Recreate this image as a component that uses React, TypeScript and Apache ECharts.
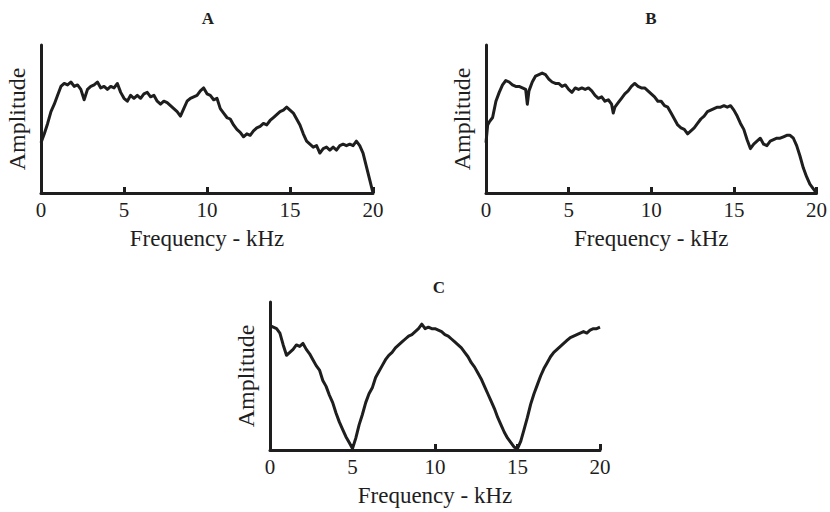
import React, { useEffect, useRef } from "react";
import * as echarts from "echarts";

const panelTitles = ["A", "B", "C"];
const xName = "Frequency - kHz";
const yName = "Amplitude";
const xTicks = [0, 5, 10, 15, 20];

const seriesA: [number, number][] = [
  [0.0, 34], [0.2, 40], [0.4, 47], [0.6, 55], [0.8, 60], [1.0, 66], [1.2, 72], [1.4, 74], [1.6, 73], [1.8, 75],
  [2.0, 72], [2.2, 73], [2.4, 70], [2.6, 63], [2.8, 70], [3.0, 72], [3.2, 73], [3.4, 75], [3.6, 71], [3.8, 72],
  [4.0, 70], [4.2, 72], [4.4, 71], [4.6, 74], [4.8, 68], [5.0, 64], [5.2, 62], [5.4, 66], [5.6, 64], [5.8, 66],
  [6.0, 64], [6.2, 67], [6.4, 68], [6.6, 65], [6.8, 66], [7.0, 62], [7.2, 60], [7.4, 62], [7.6, 61], [7.8, 59],
  [8.0, 57], [8.2, 55], [8.4, 52], [8.6, 57], [8.8, 62], [9.0, 64], [9.2, 65], [9.4, 66], [9.6, 69], [9.8, 71],
  [10.0, 67], [10.2, 66], [10.4, 63], [10.6, 64], [10.8, 57], [11.0, 54], [11.2, 51], [11.4, 50], [11.6, 46], [11.8, 43],
  [12.0, 41], [12.2, 38], [12.4, 40], [12.6, 39], [12.8, 42], [13.0, 44], [13.2, 45], [13.4, 47], [13.6, 46], [13.8, 49],
  [14.0, 51], [14.2, 53], [14.4, 55], [14.6, 56], [14.8, 58], [15.0, 56], [15.2, 54], [15.4, 50], [15.6, 46], [15.8, 40],
  [16.0, 35], [16.2, 33], [16.4, 31], [16.6, 32], [16.8, 27], [17.0, 30], [17.2, 31], [17.4, 29], [17.6, 31], [17.8, 29],
  [18.0, 32], [18.2, 33], [18.4, 32], [18.6, 33], [18.8, 32], [19.0, 35], [19.2, 32], [19.4, 27], [19.6, 18], [19.8, 9],
  [20.0, 0],
];

const seriesB: [number, number][] = [
  [0.0, 34], [0.1, 46], [0.2, 48], [0.4, 51], [0.6, 62], [0.8, 68], [1.0, 73], [1.2, 76], [1.4, 75], [1.6, 73],
  [1.8, 72], [2.0, 72], [2.2, 71], [2.4, 70], [2.5, 60], [2.6, 69], [2.8, 75], [3.0, 79], [3.2, 80], [3.4, 81],
  [3.6, 80], [3.8, 77], [4.0, 75], [4.2, 74], [4.4, 74], [4.6, 72], [4.8, 73], [5.0, 70], [5.2, 68], [5.4, 71],
  [5.6, 70], [5.8, 71], [6.0, 70], [6.2, 71], [6.4, 69], [6.6, 66], [6.8, 64], [7.0, 65], [7.2, 62], [7.4, 63],
  [7.6, 60], [7.7, 54], [7.8, 58], [8.0, 61], [8.2, 64], [8.4, 67], [8.6, 69], [8.8, 72], [9.0, 74], [9.2, 72],
  [9.4, 71], [9.6, 71], [9.8, 69], [10.0, 67], [10.2, 65], [10.4, 62], [10.6, 62], [10.8, 59], [11.0, 58], [11.2, 54],
  [11.4, 50], [11.6, 46], [11.8, 44], [12.0, 43], [12.2, 40], [12.4, 42], [12.6, 44], [12.8, 47], [13.0, 50], [13.2, 52],
  [13.4, 55], [13.6, 56], [13.8, 57], [14.0, 58], [14.2, 58], [14.4, 59], [14.6, 58], [14.8, 59], [15.0, 56], [15.2, 52],
  [15.4, 47], [15.6, 43], [15.8, 36], [16.0, 30], [16.2, 33], [16.4, 35], [16.6, 37], [16.8, 33], [17.0, 32], [17.2, 35],
  [17.4, 36], [17.6, 37], [17.8, 37], [18.0, 38], [18.2, 39], [18.4, 39], [18.6, 37], [18.8, 32], [19.0, 25], [19.2, 17],
  [19.4, 11], [19.6, 6], [19.8, 3], [20.0, 0],
];

const seriesC: [number, number][] = [
  [0.0, 84], [0.2, 83], [0.4, 82], [0.6, 79], [0.8, 71], [1.0, 64], [1.2, 66], [1.4, 68], [1.6, 71], [1.8, 70],
  [2.0, 72], [2.2, 68], [2.4, 65], [2.6, 61], [2.8, 57], [3.0, 54], [3.2, 47], [3.4, 43], [3.6, 37], [3.8, 32],
  [4.0, 25], [4.2, 19], [4.4, 14], [4.6, 9], [4.8, 5], [5.0, 1], [5.2, 8], [5.4, 17], [5.6, 24], [5.8, 32],
  [6.0, 38], [6.2, 42], [6.4, 49], [6.6, 53], [6.8, 57], [7.0, 61], [7.2, 64], [7.4, 66], [7.6, 69], [7.8, 71],
  [8.0, 73], [8.2, 75], [8.4, 77], [8.6, 78], [8.8, 80], [9.0, 82], [9.2, 85], [9.4, 82], [9.6, 83], [9.8, 82],
  [10.0, 82], [10.2, 81], [10.4, 80], [10.6, 78], [10.8, 77], [11.0, 75], [11.2, 73], [11.4, 71], [11.6, 69], [11.8, 66],
  [12.0, 63], [12.2, 59], [12.4, 56], [12.6, 52], [12.8, 48], [13.0, 43], [13.2, 38], [13.4, 33], [13.6, 28], [13.8, 22],
  [14.0, 17], [14.2, 12], [14.4, 8], [14.6, 5], [14.8, 2], [15.0, 1], [15.2, 6], [15.4, 14], [15.6, 22], [15.8, 31],
  [16.0, 38], [16.2, 44], [16.4, 50], [16.6, 55], [16.8, 59], [17.0, 63], [17.2, 66], [17.4, 68], [17.6, 70], [17.8, 72],
  [18.0, 74], [18.2, 76], [18.4, 77], [18.6, 78], [18.8, 79], [19.0, 80], [19.2, 79], [19.4, 81], [19.6, 82], [19.8, 82],
  [20.0, 83],
];

const FONT = "Liberation Serif";
const INK = "#1e1e1e";

export default function App() {
  const ref = useRef<HTMLDivElement>(null);
  useEffect(() => {
    if (!ref.current) return;
    const chart = echarts.init(ref.current, null, { renderer: "svg" });
    const grids = [
      { left: 41, right: 457, top: 45, bottom: 319 },
      { left: 486, right: 12, top: 45, bottom: 319 },
      { left: 270, right: 230, top: 302, bottom: 62 },
    ];
    const datas = [seriesA, seriesB, seriesC];
    const titlePos = [
      { left: 203, top: 5 },
      { left: 646, top: 5 },
      { left: 434, top: 274 },
    ];
    const option: any = {
      animation: false,
      backgroundColor: "#ffffff",
      title: panelTitles.map((t, i) => ({
        text: t,
        left: titlePos[i].left,
        top: titlePos[i].top,
        textAlign: "center",
        textStyle: { fontFamily: FONT, fontSize: 17, fontWeight: "bold", color: INK },
      })),
      grid: grids,
      xAxis: grids.map((_, i) => ({
        type: "value",
        gridIndex: i,
        min: xTicks[0],
        max: xTicks[xTicks.length - 1],
        interval: 5,
        name: xName,
        nameLocation: "middle",
        nameGap: 34,
        nameTextStyle: { fontFamily: FONT, fontSize: 23, color: INK },
        axisLine: { show: true, onZero: false, lineStyle: { color: INK, width: 3 } },
        axisTick: { show: true, inside: true, length: 6, lineStyle: { color: INK, width: 3 } },
        axisLabel: { fontFamily: FONT, fontSize: 21, color: INK, margin: 6 },
        splitLine: { show: false },
      })),
      yAxis: grids.map((_, i) => ({
        type: "value",
        gridIndex: i,
        min: 0,
        max: 100,
        name: yName,
        nameLocation: "middle",
        nameGap: 12,
        nameTextStyle: { fontFamily: FONT, fontSize: 24, color: INK },
        axisLine: { show: true, lineStyle: { color: INK, width: 3 } },
        axisTick: { show: false },
        axisLabel: { show: false },
        splitLine: { show: false },
      })),
      series: datas.map((d, i) => ({
        type: "line",
        xAxisIndex: i,
        yAxisIndex: i,
        data: d,
        symbol: "none",
        clip: false,
        lineStyle: { color: INK, width: 3, join: "round" },
      })),
    };
    chart.setOption(option);
    return () => chart.dispose();
  }, []);
  return <div ref={ref} style={{ width: 830, height: 512, position: "absolute", left: 0, top: 0 }} />;
}
